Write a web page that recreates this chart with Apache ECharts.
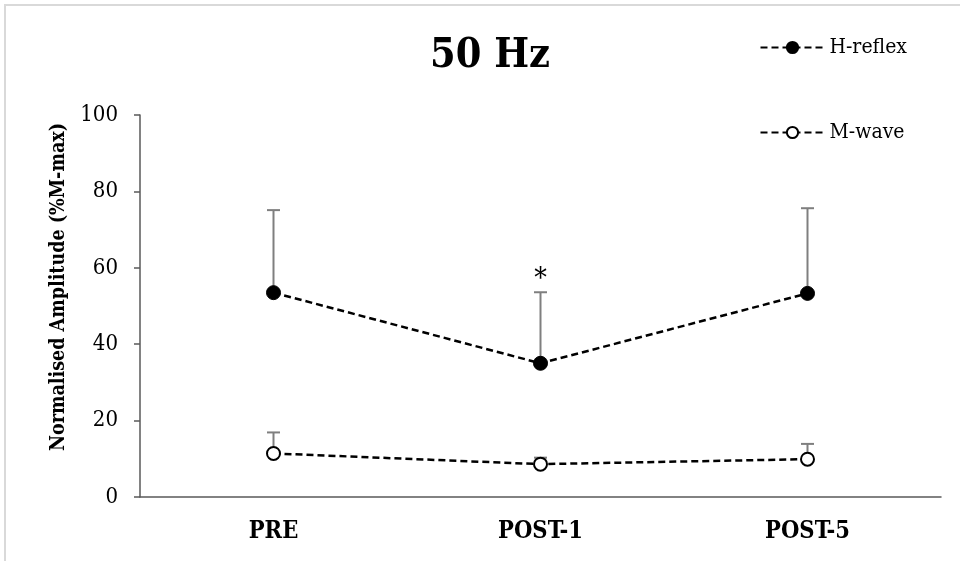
<!DOCTYPE html>
<html>
<head>
<meta charset="utf-8">
<script src="https://cdn.jsdelivr.net/npm/echarts@6/dist/echarts.min.js"></script>
<style>
html,body{margin:0;padding:0;background:#fff;}
#chart{width:960px;height:561px;}
</style>
</head>
<body>
<div id="chart"></div>
<script>
// ---- data ----
const categories = ['PRE', 'POST-1', 'POST-5'];
const hReflex = [53.5, 35.0, 53.3];
const hReflexUpper = [75.1, 53.6, 75.6];
const mWave = [11.4, 8.6, 9.9];
const mWaveUpper = [16.9, 10.3, 13.9];
const significance = ['', '*', ''];
const yTicks = [0, 20, 40, 60, 80, 100];

const FONT = '"DejaVu Serif Condensed", "DejaVu Serif", "Liberation Serif", serif';

const chart = echarts.init(document.getElementById('chart'), null, {renderer: 'canvas'});

function errorSeries(name, values, uppers, marks) {
  return {
    type: 'custom',
    name: name,
    z: 1,
    silent: true,
    data: values.map((v, i) => [i, v, uppers[i], marks ? marks[i] : '']),
    renderItem: function (params, api) {
      const x = api.value(0);
      const p0 = api.coord([x, api.value(1)]);
      const p1 = api.coord([x, api.value(2)]);
      const cap = 6.5;
      const style = {stroke: '#7f7f7f', lineWidth: 2};
      const children = [
        {type: 'line', shape: {x1: p0[0], y1: p0[1], x2: p1[0], y2: p1[1]}, style: style},
        {type: 'line', shape: {x1: p1[0] - cap, y1: p1[1], x2: p1[0] + cap, y2: p1[1]}, style: style}
      ];
      const m = api.value(3);
      if (m) {
        children.push({
          type: 'text',
          style: {text: m, x: p1[0], y: p1[1] - 13, align: 'center', verticalAlign: 'middle',
                  font: '28px ' + FONT, fill: '#000'}
        });
      }
      return {type: 'group', children: children};
    }
  };
}

const option = {
  animation: false,
  backgroundColor: '#fff',
  title: {
    text: '50 Hz',
    left: 425,
    top: 31,
    textStyle: {fontFamily: FONT, fontWeight: 'bold', fontSize: 41, color: '#000'}
  },
  legend: {
    orient: 'vertical',
    right: 48,
    top: 32,
    itemGap: 64,
    itemWidth: 64,
    itemHeight: 14,
    align: 'left',
    textStyle: {fontFamily: FONT, fontSize: 21, color: '#000'},
    data: ['H-reflex', 'M-wave']
  },
  grid: {left: 140, right: 19, top: 115, bottom: 64},
  xAxis: {
    type: 'category',
    data: categories,
    boundaryGap: true,
    axisLine: {lineStyle: {color: '#595959', width: 1.5}},
    axisTick: {alignWithLabel: true, length: 6, lineStyle: {color: '#595959', width: 1.5}},
    axisLabel: {margin: 23, fontFamily: FONT, fontWeight: 'bold', fontSize: 23.5, color: '#000'},
    splitLine: {show: false}
  },
  yAxis: {
    type: 'value',
    min: yTicks[0],
    max: yTicks[yTicks.length - 1],
    interval: yTicks[1] - yTicks[0],
    name: 'Normalised Amplitude (%M-max)',
    nameLocation: 'middle',
    nameGap: 66,
    nameTextStyle: {fontFamily: FONT, fontWeight: 'bold', fontSize: 19.5, color: '#000', padding: [0, 0, 0, 38]},
    axisLine: {show: true, lineStyle: {color: '#595959', width: 1.5}},
    axisTick: {show: true, length: 6, lineStyle: {color: '#595959', width: 1.5}},
    axisLabel: {margin: 22, fontFamily: FONT, fontSize: 22, color: '#000'},
    splitLine: {show: false}
  },
  series: [
    errorSeries('hErr', hReflex, hReflexUpper, significance),
    errorSeries('mErr', mWave, mWaveUpper, null),
    {
      name: 'H-reflex',
      type: 'line',
      z: 3,
      data: hReflex,
      symbol: 'circle',
      symbolSize: 14,
      itemStyle: {color: '#000', borderColor: '#000', borderWidth: 1},
      lineStyle: {color: '#000', width: 2.5, type: [7, 4]}
    },
    {
      name: 'M-wave',
      type: 'line',
      z: 3,
      data: mWave,
      symbol: 'circle',
      symbolSize: 13,
      itemStyle: {color: '#fff', borderColor: '#000', borderWidth: 2},
      lineStyle: {color: '#000', width: 2.5, type: [7, 4]}
    }
  ]
};

chart.setOption(option);

// end tick at right end of the x axis (as in the reference)
const xEnd = chart.convertToPixel({gridIndex: 0}, [categories.length - 0.5, 0]);
chart.setOption({
  graphic: [
    {type: 'rect', z: -10, shape: {x: 5, y: 5, width: 980, height: 600},
     style: {fill: 'none', stroke: '#d9d9d9', lineWidth: 2}},
    {type: 'line', z: 5, shape: {x1: xEnd[0], y1: xEnd[1], x2: xEnd[0], y2: xEnd[1] + 6},
     style: {stroke: '#595959', lineWidth: 1.5}}
  ]
});
</script>
</body>
</html>
